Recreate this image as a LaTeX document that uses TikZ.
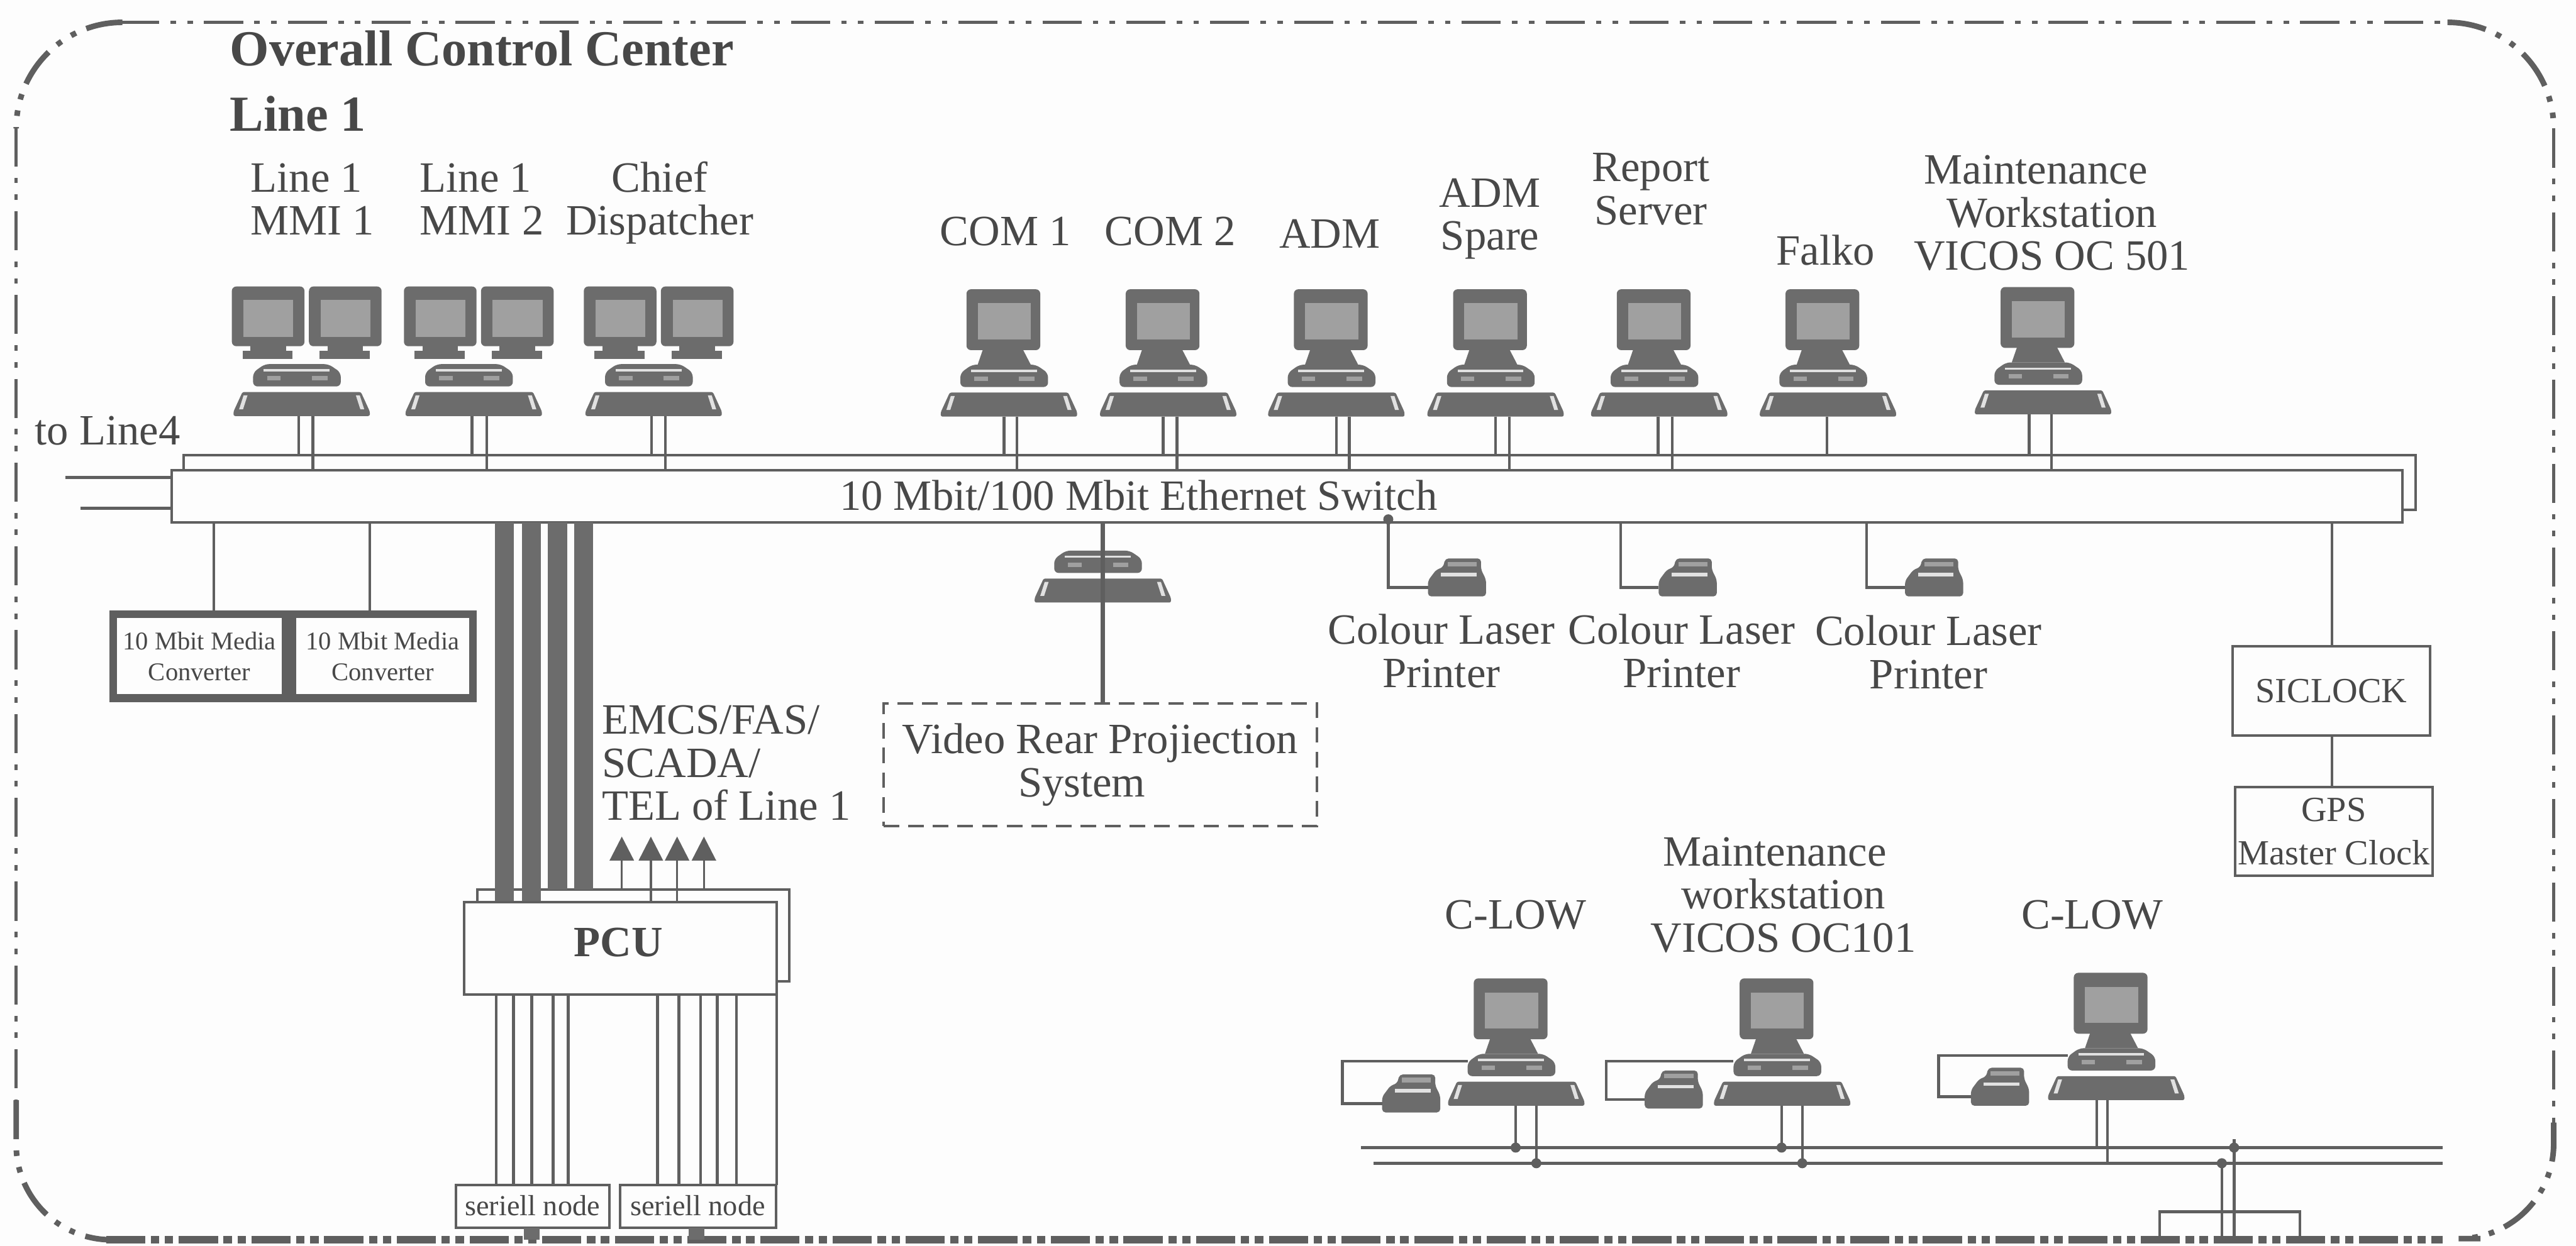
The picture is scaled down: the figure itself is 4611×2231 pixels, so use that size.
\documentclass[tikz,border=0pt]{standalone}
\usepackage{fontspec}
\setmainfont{Liberation Serif}
\usetikzlibrary{arrows.meta}
\definecolor{inkgray}{RGB}{72, 72, 72}
\definecolor{wiregray}{RGB}{95, 95, 95}
\definecolor{bodygray}{RGB}{108, 108, 108}
\definecolor{screengray}{RGB}{160, 160, 160}
\definecolor{slotgray}{RGB}{225, 225, 225}
\definecolor{papergray}{RGB}{253, 253, 253}
\tikzset{
    lab/.style={anchor=base, inner sep=0pt, text=inkgray, align=center, font=\fontsize{22}{22}\selectfont},
    sysbox/.style={draw=wiregray, fill=papergray, line width=.045cm, inner sep=0pt, outer sep=0pt, text=inkgray, align=center},
    mediabox/.style={sysbox, line width=.14cm, font=\fontsize{13}{15.6}\selectfont},
    smallbox/.style={sysbox, font=\fontsize{18}{22}\selectfont},
    wire/.style={draw=wiregray, line width=.05cm},
    cable/.style={draw=bodygray, line width=.34cm},
    ctrlframe/.style={draw=wiregray, line width=.055cm, dash pattern=on .7cm off .2cm on .1cm off .2cm on .1cm off .2cm},
    joint/.style={fill=wiregray},
    pcbase/.pic={
        \coordinate (-base) at (0,0);
        \coordinate (-cpu) at (-87,-80);
        \fill[bodygray, rounded corners=.08cm] (-87,-53) -- (-87,-78) -- (-66,-93) -- (48,-93) -- (70,-78) -- (70,-53) -- cycle;
        \fill[slotgray] (-68,-84) rectangle (50,-80);
        \fill[screengray] (-62,-72) rectangle (-38,-64);
        \fill[screengray] (18,-72) rectangle (46,-64);
        \fill[bodygray, rounded corners=.03cm] (-106,-43) -- (106,-43) -- (122,-8) -- (122,0) -- (-122,0) -- (-122,-8) -- cycle;
        \fill[slotgray] (-104,-37) -- (-97,-37) -- (-105,-12) -- (-112,-12) -- cycle;
        \fill[slotgray] (97,-37) -- (104,-37) -- (112,-12) -- (105,-12) -- cycle;
    },
    pcone/.pic={
        \pic {pcbase};
        \fill[bodygray, rounded corners=.08cm] (-76,-228) rectangle (56,-119);
        \fill[bodygray] (-46,-122) -- (24,-122) -- (39,-93) -- (-56,-93) -- cycle;
        \fill[screengray] (-56,-203) rectangle (39,-138);
    },
    pctwo/.pic={
        \pic {pcbase};
        \foreach \mx in {-60,78}{
            \fill[bodygray, rounded corners=.08cm] (\mx-65,-232) rectangle (\mx+65,-125);
            \fill[bodygray] (\mx-32,-127) rectangle (\mx+32,-115);
            \fill[bodygray] (\mx-46,-117) rectangle (\mx+44,-102);
            \fill[screengray] (\mx-44,-208) rectangle (\mx+45,-142);
        }
    },
    printer/.pic={
        \coordinate (-port) at (-51,-16);
        \fill[bodygray, rounded corners=.06cm] (-51,0) -- (-51,-28) -- (-36,-48) -- (-24,-52) -- (-20,-68) -- (44,-68) -- (44,-48) -- (53,-30) -- (53,0) -- cycle;
        \fill[screengray] (-16,-62) rectangle (36,-54);
        \fill[slotgray] (-28,-42) rectangle (36,-36);
    },
}

\begin{document}
\begin{tikzpicture}[x=.01cm, y=-.01cm]
    \useasboundingbox (0,0) rectangle (4611,2231);
    \fill[papergray] (0,0) rectangle (4611,2231);

    % outer dash-dot frame
    \draw[ctrlframe] (215,40) -- (4381,40);
    \draw[ctrlframe] (29,228) -- (29,1970);
    \draw[ctrlframe] (4571,230) -- (4571,2010);
    \draw[ctrlframe, line width=.13cm, dash pattern=on .7cm off .1cm on .15cm off .1cm on .15cm off .1cm] (190,2220) -- (4372,2220);
    \draw[ctrlframe, line width=.1cm, rounded corners=1.9cm] (215,40) -- (29,40) -- (29,228);
    \draw[ctrlframe, line width=.1cm, rounded corners=1.9cm] (4381,40) -- (4571,40) -- (4571,230);
    \draw[ctrlframe, line width=.1cm, rounded corners=1.7cm] (29,1970) -- (29,2220) -- (190,2220);
    \draw[ctrlframe, line width=.1cm, rounded corners=1.7cm] (4571,2010) -- (4571,2218) -- (4440,2218);

    \node[lab, anchor=base west, font=\fontsize{25.7}{30}\selectfont\bfseries] (ctrltitle) at (411,118) {Overall Control Center};
    \node[lab, anchor=base west, font=\fontsize{25.7}{30}\selectfont\bfseries] (linetitle) at (411,235) {Line 1};

    % switch
    \node[sysbox, minimum width=39.93cm, minimum height=.98cm] (swback) at (2326.5,864) {};
    \node[sysbox, minimum width=39.91cm, minimum height=.94cm] (swfront) at (2303.5,889) {};
    \node[lab] (swtext) at (2038,914) {10 Mbit/100 Mbit Ethernet Switch};
    \node[lab, anchor=base west] (toline) at (62,797) {to Line4};
    \coordinate (stuba) at (117,855);
    \coordinate (stubb) at (144,910);
    \draw[wire] (stuba) -- (stuba -| swfront.west);
    \draw[wire] (stubb) -- (stubb -| swfront.west);

    % workstations, top row
    \pic (mmia) at (540,745) {pctwo};
    \pic (mmib) at (848,745) {pctwo};
    \pic (chief) at (1170,745) {pctwo};
    \pic (coma) at (1806,746) {pcone};
    \pic (comb) at (2091,746) {pcone};
    \pic (adm) at (2392,746) {pcone};
    \pic (spare) at (2677,746) {pcone};
    \pic (report) at (2970,746) {pcone};
    \pic (falko) at (3272,746) {pcone};
    \pic (maint) at (3657,742) {pcone};
    \foreach \pcname/\xa/\xb in {mmia/535/560, mmib/845/871, chief/1166/1191, coma/1797/1820, comb/2082/2107, adm/2392/2415, spare/2677/2702, report/2968/2993, maint/3632/3672}{
        \draw[wire] (\xa,0 |- \pcname-base) -- (\xa,0 |- swback.north);
        \draw[wire] (\xb,0 |- \pcname-base) -- (\xb,0 |- swfront.north);
    }
    \draw[wire] (3270,0 |- falko-base) -- (3270,0 |- swback.north);

    \node[lab, anchor=base west, align=left] (lblmmia) at (448,421) {Line 1\\MMI 1};
    \node[lab, anchor=base west, align=left] (lblmmib) at (751,421) {Line 1\\MMI 2};
    \node[lab] (lblchief) at (1181,421) {Chief\\Dispatcher};
    \node[lab] (lblcoma) at (1800,440) {COM 1};
    \node[lab] (lblcomb) at (2095,440) {COM 2};
    \node[lab] (lbladm) at (2380,444) {ADM};
    \node[lab] (lblspare) at (2667,448) {ADM\\Spare};
    \node[lab] (lblreport) at (2955,402) {Report\\Server};
    \node[lab] (lblfalko) at (3268,475) {Falko};
    \node[lab] (lblmaint) at (3673,484) {Maintenance\hspace*{.58cm}\\Workstation\hspace*{.58cm}\\VICOS OC 501};

    % media converters
    \node[mediabox, minimum width=3.09cm, minimum height=1.5cm] (meda) at (357,1175) {10 Mbit Media\\Converter};
    \node[mediabox, minimum width=3.23cm, minimum height=1.5cm] (medb) at (685,1175) {10 Mbit Media\\Converter};
    \draw[wire] (383,0 |- swfront.south) -- (383,0 |- meda.north);
    \draw[wire] (662,0 |- swfront.south) -- (662,0 |- medb.north);

    % PCU and its cables
    \node[sysbox, minimum width=5.58cm, minimum height=1.64cm] (pcuback) at (1134,1675) {};
    \draw[cable] (903,0 |- swfront.south) -- (903,1616);
    \draw[cable] (951,0 |- swfront.south) -- (951,1616);
    \draw[cable] (998,0 |- swfront.south) -- (998,0 |- pcuback.north);
    \draw[cable] (1045,0 |- swfront.south) -- (1045,0 |- pcuback.north);
    \node[sysbox, minimum width=5.59cm, minimum height=1.65cm] (pcufront) at (1110.5,1698.5) {};
    \node[lab, font=\fontsize{22}{22}\selectfont\bfseries] (pcutext) at (1107,1713) {PCU};
    \foreach \xa in {1113,1260}{
        \draw[wire, line width=.04cm, -{Triangle[length=.43cm, width=.43cm]}] (\xa,0 |- pcuback.north) -- (\xa,1498);
    }
    \foreach \xa in {1165,1212}{
        \draw[wire, line width=.04cm, -{Triangle[length=.43cm, width=.43cm]}] (\xa,0 |- pcufront.north) -- (\xa,1498);
    }
    \node[lab, anchor=base west, align=left] (lblemcs) at (1077,1469) {EMCS/FAS/\\SCADA/\\TEL of Line 1};

    % seriell nodes
    \node[sysbox, minimum width=2.75cm, minimum height=.77cm] (sera) at (953.5,2160.5) {};
    \node[sysbox, minimum width=2.79cm, minimum height=.77cm] (serb) at (1249.5,2160.5) {};
    \node[lab, font=\fontsize{14.8}{18}\selectfont] (seratext) at (953,2177) {seriell node};
    \node[lab, font=\fontsize{14.8}{18}\selectfont] (serbtext) at (1249,2177) {seriell node};
    \foreach \xa in {888,919,952,990,1017}{
        \draw[wire] (\xa,0 |- pcufront.south) -- (\xa,0 |- sera.north);
    }
    \foreach \xa in {1177,1215,1254,1284,1318,1390}{
        \draw[wire] (\xa,0 |- pcufront.south) -- (\xa,0 |- serb.north);
    }
    \fill[bodygray] (938,2199) rectangle (966,2220);
    \fill[bodygray] (1233,2199) rectangle (1261,2220);

    % video projection
    \pic (video) at (1974,1079) {pcbase};
    \node[sysbox, densely dashed, dash pattern=on .28cm off .16cm, line width=.04cm, minimum width=7.75cm, minimum height=2.19cm, font=\fontsize{22}{22}\selectfont] (videobox) at (1969.5,1369.5) {Video Rear Projiection\\System\hspace*{.66cm}};
    \draw[wire, line width=.07cm] (1974,0 |- swfront.south) -- (1974,0 |- videobox.north);

    % colour printers
    \pic (prna) at (2607,1068) {printer};
    \pic (prnb) at (3020,1068) {printer};
    \pic (prnc) at (3461,1068) {printer};
    \fill[joint] (2485,930) circle (9);
    \draw[wire] (2485,0 |- swfront.south) |- (prna-port);
    \draw[wire] (2901,0 |- swfront.south) |- (prnb-port);
    \draw[wire] (3341,0 |- swfront.south) |- (prnc-port);
    \node[lab] (lblprna) at (2580,1231) {Colour Laser\\Printer};
    \node[lab] (lblprnb) at (3010,1231) {Colour Laser\\Printer};
    \node[lab] (lblprnc) at (3452,1233) {Colour Laser\\Printer};

    % clock
    \node[smallbox, minimum width=3.54cm, minimum height=1.6cm] (siclock) at (4173,1237) {SICLOCK};
    \node[smallbox, minimum width=3.53cm, minimum height=1.58cm] (gps) at (4177.5,1489) {GPS\\Master Clock};
    \draw[wire] (4174,0 |- swfront.south) -- (4174,0 |- siclock.north);
    \draw[wire] (4174,0 |- siclock.south) -- (4174,0 |- gps.north);

    % lower workstations
    \coordinate (busa) at (2436,2055);
    \coordinate (busb) at (2459,2083);
    \draw[wire] (busa) -- (4372,2055);
    \draw[wire] (busb) -- (4372,2083);
    \pic (clowa) at (2714,1980) {pcone};
    \pic (oclow) at (3190,1980) {pcone};
    \pic (clowb) at (3788,1970) {pcone};
    \pic (prnd) at (2525,1992) {printer};
    \pic (prne) at (2995,1985) {printer};
    \pic (prnf) at (3579,1980) {printer};
    \draw[wire] (clowa-cpu) -| (2403,1940) |- (prnd-port);
    \draw[wire] (oclow-cpu) -| (2875,1940) |- (prne-port);
    \draw[wire] (clowb-cpu) -| (3470,1930) |- (prnf-port);
    \foreach \pcname/\xa/\xb in {clowa/2713/2750, oclow/3189/3226}{
        \draw[wire] (\xa,0 |- \pcname-base) -- (\xa,0 |- busa);
        \draw[wire] (\xb,0 |- \pcname-base) -- (\xb,0 |- busb);
        \fill[joint] (\xa,0 |- busa) circle (9);
        \fill[joint] (\xb,0 |- busb) circle (9);
    }
    \draw[wire] (3753,0 |- clowb-base) -- (3753,0 |- busa);
    \draw[wire] (3772,0 |- clowb-base) -- (3772,0 |- busb);
    \node[lab] (lblclowa) at (2713,1663) {C-LOW};
    \node[lab] (lbloclow) at (3192,1705) {Maintenance\hspace*{.3cm}\\workstation\hspace*{.3cm}\\VICOS OC101};
    \node[lab] (lblclowb) at (3745,1663) {C-LOW};

    % box cut by the lower edge
    \draw[wire] (3866,2220) |- (4117,2170) -- (4117,2220);
    \draw[wire] (3977,0 |- busb) -- (3977,2220);
    \draw[wire] (3999,2040) -- (3999,2220);
    \fill[joint] (3977,0 |- busb) circle (9);
    \fill[joint] (3999,0 |- busa) circle (9);
\end{tikzpicture}
\end{document}
